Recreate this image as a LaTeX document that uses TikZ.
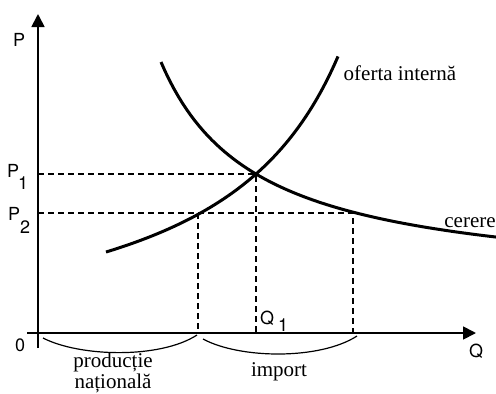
\documentclass[tikz,border=0pt]{standalone}
\usepackage{fontspec}
\setmainfont{Liberation Serif}
\newfontfamily\axisfont{TeX Gyre Heros}
\usetikzlibrary{arrows.meta}

\begin{document}
\begin{tikzpicture}[x=1pt, y=-1pt,
  axis/.style={line width=1.8pt, -{Triangle[length=13pt, width=13pt]}},
  curve/.style={line width=3pt},
  guide/.style={line width=1.6pt, dash pattern=on 6pt off 4pt},
  brace/.style={line width=1.2pt},
  alab/.style={font=\axisfont\fontsize{18}{18}\selectfont, inner sep=0pt, anchor=base west},
  tlab/.style={font=\fontsize{21}{16}\selectfont, inner sep=0pt, align=center, anchor=base}]
\useasboundingbox (0,0) rectangle (496,394);
% key points
\coordinate (O) at (38,333);
\coordinate (E) at (256,174);
\coordinate (A) at (198,213);
\coordinate (B) at (353,213);
\coordinate (p1) at (38,174);
\coordinate (p2) at (38,213);
\coordinate (qa) at (198,333);
\coordinate (q1) at (256,333);
\coordinate (qb) at (353,333);
% axes
\draw[axis] (38,348) -- (38,14);
\draw[axis] (27,333) -- (476,333);
% curves (cerere, oferta interna)
\draw[curve] plot[domain=161:496, samples=80] (\x, {287.2-216.17/((\x-65)/100)});
\draw[curve] plot[domain=106:338, samples=80] (\x, {363.3-405.07/((470-\x)/100)});
% guides
\draw[guide] (p1) -- (E) -- (q1);
\draw[guide] (p2) -- (B) -- (qb);
\draw[guide] (A) -- (qa);
% braces
\draw[brace] (43,338) .. controls (80,357) and (160,359) .. (197,335);
\draw[brace] (203,339) .. controls (240,359) and (320,360) .. (357,336);
% labels
\node[alab] (lP) at (13,46) {P};
\node[alab] (lP1) at (7,177) {P\kern-1pt\raisebox{-12pt}{1}};
\node[alab] (lP2) at (8,220) {P\kern0pt\raisebox{-13pt}{2}};
\node[alab] (l0) at (15,351) {0};
\node[alab] (lQ) at (469,357) {Q};
\node[alab] (lQ1) at (260,324) {Q\kern4pt\raisebox{-7pt}{1}};
\node[tlab] (lof) at (400,80) {oferta internă};
\node[tlab] (lce) at (470,227) {cerere};
\node[tlab] (lpn) at (113,388) {producție\\națională};
\node[tlab] (lim) at (279,376) {import};
\end{tikzpicture}
\end{document}
